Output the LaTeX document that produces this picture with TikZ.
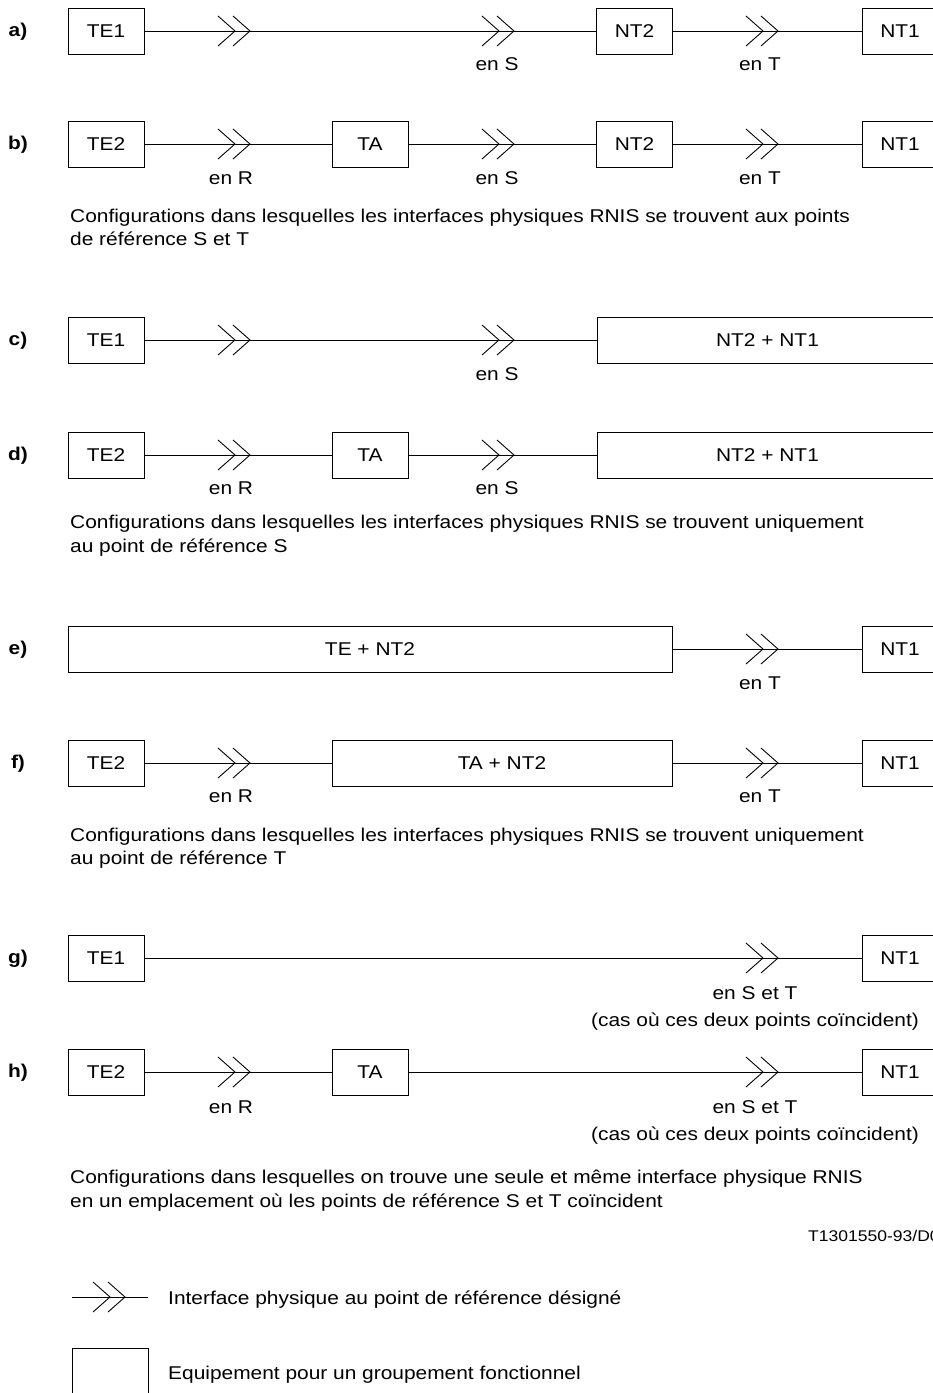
\documentclass[tikz,border=0pt]{standalone}
\usepackage{fontspec}
\setmainfont[FakeStretch=1.13]{Liberation Sans}
\newcommand\fs{\fontsize{18.5}{22}\selectfont}
\newcommand\fsm{\fontsize{15.5}{19}\selectfont}
\tikzset{
  box/.style={draw, line width=0.9pt, minimum height=46pt, inner sep=0pt, font=\fs},
  sbox/.style={box, minimum width=76pt},
  lab/.style={font=\fs, inner sep=0pt, anchor=base},
  captxt/.style={font=\fs, inner sep=0pt, anchor=base west},
  tag/.style={font=\fs\bfseries, inner sep=0pt, anchor=base},
  conn/.style={line width=0.9pt},
  chev/.pic={\draw[line width=0.9pt] (-32,-15)--(-15,0)--(-32,15) (-17,-15)--(0,0)--(-17,15);}
}
\begin{document}
\begin{tikzpicture}[x=1pt,y=-1pt]
\useasboundingbox (0,0) rectangle (933,1393);
% ---- a)
\node[tag] (ta) at (18,36) {a)};
\node[sbox] (a1) at (106,31) {TE1};
\node[sbox] (a2) at (634.5,31) {NT2};
\node[sbox] (a3) at (900,31) {NT1};
\draw[conn] (a1) -- (a2);
\draw[conn] (a2) -- (a3);
\pic at (250,31) {chev};
\pic at (514,31) {chev};
\pic at (778,31) {chev};
\node[lab] (as) at (497,70) {en S};
\node[lab] (at) at (760,70) {en T};
% ---- b)
\node[tag] (tb) at (18,149) {b)};
\node[sbox] (b1) at (106,144) {TE2};
\node[sbox] (b2) at (370,144) {TA};
\node[sbox] (b3) at (634.5,144) {NT2};
\node[sbox] (b4) at (900,144) {NT1};
\draw[conn] (b1) -- (b2);
\draw[conn] (b2) -- (b3);
\draw[conn] (b3) -- (b4);
\pic at (250,144) {chev};
\pic at (514,144) {chev};
\pic at (778,144) {chev};
\node[lab] (br) at (231,184) {en R};
\node[lab] (bs) at (497,184) {en S};
\node[lab] (bt) at (760,184) {en T};
\node[captxt] (cb1) at (70,222) {Configurations dans lesquelles les interfaces physiques RNIS se trouvent aux points};
\node[captxt] (cb2) at (70,245) {de référence S et T};
% ---- c)
\node[tag] (tc) at (18,345) {c)};
\node[sbox] (c1) at (106,340) {TE1};
\node[box, minimum width=341pt] (c2) at (767.5,340) {NT2 + NT1};
\draw[conn] (c1) -- (c2);
\pic at (250,340) {chev};
\pic at (514,340) {chev};
\node[lab] (cs) at (497,380) {en S};
% ---- d)
\node[tag] (td) at (18,460) {d)};
\node[sbox] (d1) at (106,455) {TE2};
\node[sbox] (d2) at (370,455) {TA};
\node[box, minimum width=341pt] (d3) at (767.5,455) {NT2 + NT1};
\draw[conn] (d1) -- (d2);
\draw[conn] (d2) -- (d3);
\pic at (250,455) {chev};
\pic at (514,455) {chev};
\node[lab] (dr) at (231,494) {en R};
\node[lab] (ds) at (497,494) {en S};
\node[captxt] (cd1) at (70,528) {Configurations dans lesquelles les interfaces physiques RNIS se trouvent uniquement};
\node[captxt] (cd2) at (70,552) {au point de référence S};
% ---- e)
\node[tag] (te) at (18,654) {e)};
\node[box, minimum width=604pt] (e1) at (370,649) {TE + NT2};
\node[sbox] (e2) at (900,649) {NT1};
\draw[conn] (e1) -- (e2);
\pic at (778,649) {chev};
\node[lab] (et) at (760,689) {en T};
% ---- f)
\node[tag] (tf) at (18,768) {f)};
\node[sbox] (f1) at (106,763) {TE2};
\node[box, minimum width=340pt] (f2) at (502,763) {TA + NT2};
\node[sbox] (f3) at (900,763) {NT1};
\draw[conn] (f1) -- (f2);
\draw[conn] (f2) -- (f3);
\pic at (250,763) {chev};
\pic at (778,763) {chev};
\node[lab] (fr) at (231,802) {en R};
\node[lab] (ft) at (760,802) {en T};
\node[captxt] (cf1) at (70,841) {Configurations dans lesquelles les interfaces physiques RNIS se trouvent uniquement};
\node[captxt] (cf2) at (70,864) {au point de référence T};
% ---- g)
\node[tag] (tg) at (18,963) {g)};
\node[sbox] (g1) at (106,958) {TE1};
\node[sbox] (g2) at (900,958) {NT1};
\draw[conn] (g1) -- (g2);
\pic at (778,958) {chev};
\node[lab] (gst) at (755,999) {en S et T};
\node[lab] (gcas) at (755,1026) {(cas où ces deux points coïncident)};
% ---- h)
\node[tag] (th) at (18,1077) {h)};
\node[sbox] (h1) at (106,1072) {TE2};
\node[sbox] (h2) at (370,1072) {TA};
\node[sbox] (h3) at (900,1072) {NT1};
\draw[conn] (h1) -- (h2);
\draw[conn] (h2) -- (h3);
\pic at (250,1072) {chev};
\pic at (778,1072) {chev};
\node[lab] (hr) at (231,1113) {en R};
\node[lab] (hst) at (755,1113) {en S et T};
\node[lab] (hcas) at (755,1140) {(cas où ces deux points coïncident)};
\node[captxt] (ch1) at (70,1183) {Configurations dans lesquelles on trouve une seule et même interface physique RNIS};
\node[captxt] (ch2) at (70,1207) {en un emplacement où les points de référence S et T coïncident};
% ---- reference
\node[font=\fsm, inner sep=0pt, anchor=base west] (ref) at (808,1241) {T1301550-93/D02};
% ---- legend
\coordinate (l1) at (72,1297);
\coordinate (l2) at (148,1297);
\draw[conn] (l1) -- (l2);
\pic at (125,1297) {chev};
\node[captxt] (lt1) at (168,1304) {Interface physique au point de référence désigné};
\node[sbox] (lbox) at (110,1371) {};
\node[captxt] (lt2) at (168,1379) {Equipement pour un groupement fonctionnel};
\end{tikzpicture}
\end{document}
